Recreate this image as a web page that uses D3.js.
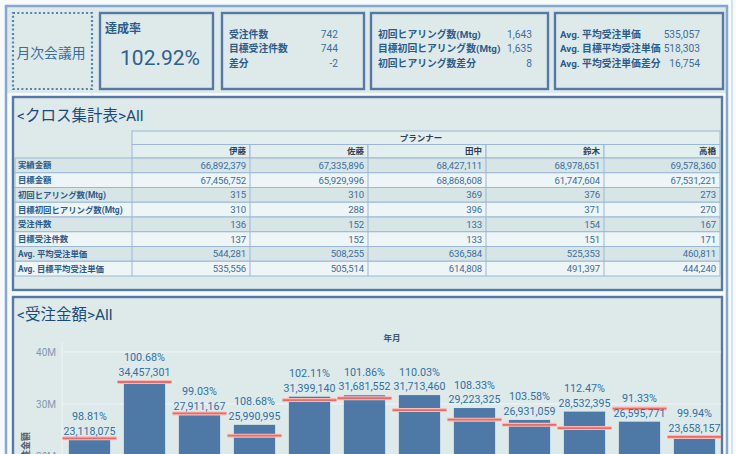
<!DOCTYPE html>
<html><head><meta charset="utf-8">
<script src="https://cdn.jsdelivr.net/npm/d3@7"></script>
<style>
html,body{margin:0;padding:0;background:#f7fafa;}
svg{display:block;font-family:Roboto,"Noto Sans CJK JP",sans-serif;}
</style></head>
<body><svg id="c" width="736" height="454"></svg>
<script>
// ---------- data ----------
const badgeText = "月次会議用";
const rateTitle = "達成率";
const rateValue = "102.92%";
const kpiCountLabels = ["受注件数", "目標受注件数", "差分"];
const kpiCountValues = [742, 744, -2];
const kpiMtgLabels = ["初回ヒアリング数(Mtg)", "目標初回ヒアリング数(Mtg)", "初回ヒアリング数差分"];
const kpiMtgValues = [1643, 1635, 8];
const kpiPriceLabels = ["Avg. 平均受注単価", "Avg. 目標平均受注単価", "Avg. 平均受注単価差分"];
const kpiPriceValues = [535057, 518303, 16754];

const tableTitle = "<クロス集計表>All";
const planners = ["伊藤", "佐藤", "田中", "鈴木", "高橋"];
const plannerHeader = "プランナー";
const rowLabels = ["実績金額", "目標金額", "初回ヒアリング数(Mtg)", "目標初回ヒアリング数(Mtg)", "受注件数", "目標受注件数", "Avg. 平均受注単価", "Avg. 目標平均受注単価"];
const rowActual   = [66892379, 67335896, 68427111, 68978651, 69578360];
const rowTarget   = [67456752, 65929996, 68868608, 61747604, 67531221];
const rowMtg      = [315, 310, 369, 376, 273];
const rowMtgTgt   = [310, 288, 396, 371, 270];
const rowOrders   = [136, 152, 133, 154, 167];
const rowOrdersTgt= [137, 152, 133, 151, 171];
const rowAvg      = [544281, 508255, 636584, 525353, 460811];
const rowAvgTgt   = [535556, 505514, 614808, 491397, 444240];

const chartTitle = "<受注金額>All";
const xHeader = "年月";
const yTitle = "受注金額";
const months = ["1","2","3","4","5","6","7","8","9","10","11","12"];
const actual = [23118075, 34457301, 27911167, 25990995, 31399140, 31681552, 31713460, 29223325, 26931059, 28532395, 26595771, 23658157];
const rates  = ["98.81%", "100.68%", "99.03%", "108.68%", "102.11%", "101.86%", "110.03%", "108.33%", "103.58%", "112.47%", "91.33%", "99.94%"];
const target = [23396493, 34224574, 28184557, 23915159, 30750308, 31103035, 28822557, 26976207, 26000250, 25368894, 29120520, 23672360];
const yTicks = [0, 10000000, 20000000, 30000000, 40000000];

// ---------- drawing ----------
const svg = d3.select("#c");
const fmt = d3.format(",");
const PANEL_BG = "#deeaea";
const BORDER = "#5578a6";
const LABEL = "#2b5b8c";
const VALUE = "#3b6d9d";

// KPI strip background
svg.append("rect").attr("x",7).attr("y",7).attr("width",719).attr("height",86).attr("fill",PANEL_BG);

// outer frame
svg.append("path").attr("d","M6,460 L6,6 L727,6 L727,460").attr("fill","none").attr("stroke","#86a8cf").attr("stroke-width",2.5);
svg.append("line").attr("x1",732).attr("x2",732).attr("y1",0).attr("y2",454).attr("stroke","#c9d8e8").attr("stroke-width",1.5);

// badge
svg.append("rect").attr("x",13).attr("y",13).attr("width",79).attr("height",76)
  .attr("fill",PANEL_BG).attr("stroke","#5a7fab").attr("stroke-width",2.2).attr("stroke-dasharray","2,2.3");
svg.append("text").attr("x",51).attr("y",53).attr("text-anchor","middle").attr("dominant-baseline","central")
  .attr("font-size",13.8).attr("fill","#3a6b9e").text(badgeText);

function panel(x,y,w,h){
  svg.append("rect").attr("x",x).attr("y",y).attr("width",w).attr("height",h)
    .attr("fill",PANEL_BG).attr("stroke",BORDER).attr("stroke-width",2.4);
}
panel(100,13,113,76);
svg.append("text").attr("x",105).attr("y",29).attr("dominant-baseline","central").attr("font-size",12).attr("font-weight","bold").attr("fill",LABEL).text(rateTitle);
svg.append("text").attr("x",160).attr("y",58).attr("text-anchor","middle").attr("dominant-baseline","central").attr("font-size",21).attr("fill","#2d5f91").text(rateValue);

function kpiBlock(x,w,labels,values,lx,vx){
  panel(x,13,w,76);
  const ys = [34,48.7,63.3];
  labels.forEach((l,i)=>{
    svg.append("text").attr("x",lx).attr("y",ys[i]).attr("dominant-baseline","central").attr("font-size",9.8).attr("font-weight","bold").attr("fill",LABEL).text(l);
    svg.append("text").attr("x",vx).attr("y",ys[i]).attr("text-anchor","end").attr("dominant-baseline","central").attr("font-size",10.2).attr("fill",VALUE).text(fmt(values[i]).replace("−","-"));
  });
}
kpiBlock(222,142,kpiCountLabels,kpiCountValues,229,338);
kpiBlock(371,177,kpiMtgLabels,kpiMtgValues,378,532);
kpiBlock(555,168,kpiPriceLabels,kpiPriceValues,560,700);

// ---------- table ----------
panel(13,97,709,193);
svg.append("text").attr("x",17).attr("y",116).attr("dominant-baseline","central").attr("font-size",15.5).attr("fill","#1a4a7c").text(tableTitle);

const colEdges = [15,132,250,368,486,604,720];
const hdr1 = 131, hdr2 = 144.5, dataTop = 158, rowH = 14.75;
const grid = "#9ab7d5";
const tableRows = [rowActual,rowTarget,rowMtg,rowMtgTgt,rowOrders,rowOrdersTgt,rowAvg,rowAvgTgt];

svg.append("rect").attr("x",132).attr("y",hdr1).attr("width",588).attr("height",hdr2-hdr1).attr("fill","#e3eeee").attr("stroke",grid);
svg.append("text").attr("x",421).attr("y",(hdr1+hdr2)/2).attr("text-anchor","middle").attr("dominant-baseline","central").attr("font-size",8.5).attr("font-weight","bold").attr("fill","#2e3f55").text(plannerHeader);
planners.forEach((p,i)=>{
  svg.append("rect").attr("x",colEdges[i+1]).attr("y",hdr2).attr("width",colEdges[i+2]-colEdges[i+1]).attr("height",dataTop-hdr2).attr("fill","#e3eeee").attr("stroke",grid);
  svg.append("text").attr("x",colEdges[i+2]-4).attr("y",(hdr2+dataTop)/2).attr("text-anchor","end").attr("dominant-baseline","central").attr("font-size",8.5).attr("font-weight","bold").attr("fill","#2e3f55").text(p);
});
tableRows.forEach((vals,r)=>{
  const y0 = dataTop + r*rowH;
  svg.append("rect").attr("x",15).attr("y",y0).attr("width",705).attr("height",rowH).attr("fill", r%2===0 ? "#d8e5e6" : "#eef5f6").attr("stroke",grid);
  svg.append("text").attr("x",18).attr("y",y0+rowH/2).attr("dominant-baseline","central").attr("font-size",8.4).attr("font-weight","bold").attr("fill",LABEL).text(rowLabels[r]);
  vals.forEach((v,i)=>{
    svg.append("line").attr("x1",colEdges[i+1]).attr("x2",colEdges[i+1]).attr("y1",y0).attr("y2",y0+rowH).attr("stroke",grid);
    svg.append("text").attr("x",colEdges[i+2]-4).attr("y",y0+rowH/2).attr("text-anchor","end").attr("dominant-baseline","central").attr("font-size",9.6).attr("letter-spacing",-0.15).attr("fill",VALUE).text(fmt(v));
  });
});

// ---------- chart ----------
panel(13,297,709,200);
svg.append("text").attr("x",17).attr("y",315).attr("dominant-baseline","central").attr("font-size",15.5).attr("fill","#1a4a7c").text(chartTitle);

const plotTop = 342;
const x = d3.scaleBand().domain(months).range([62,722]).paddingInner(0.25).paddingOuter(0.125);
const y = d3.scaleLinear().domain([0,41.92e6]).range([560,plotTop]);

svg.append("text").attr("x",392).attr("y",338).attr("text-anchor","middle").attr("dominant-baseline","central").attr("font-size",8.5).attr("font-weight","bold").attr("fill","#44546a").text(xHeader);

svg.append("clipPath").attr("id","plotclip").append("rect").attr("x",14).attr("y",298).attr("width",707).attr("height",200);
const g = svg.append("g").attr("clip-path","url(#plotclip)");

g.selectAll(".gl").data(yTicks).join("line").attr("x1",62).attr("x2",721).attr("y1",d=>y(d)).attr("y2",d=>y(d)).attr("stroke","#eef5f5").attr("stroke-width",1);
g.append("line").attr("x1",62).attr("x2",62).attr("y1",plotTop).attr("y2",560).attr("stroke","#eef5f5");

const yAxis = d3.axisLeft(y).tickValues(yTicks).tickFormat(d=>d3.format("~s")(d)).tickSize(0).tickPadding(6);
const ya = g.append("g").attr("transform","translate(62,0)").call(yAxis);
ya.select(".domain").remove();
ya.selectAll("text").attr("font-size",10).attr("fill","#8597ad").attr("font-family","Roboto,sans-serif");

g.append("text").attr("transform","translate(26,432) rotate(-90)").attr("text-anchor","end").attr("dominant-baseline","central")
  .attr("font-size",9).attr("font-weight","bold").attr("fill","#4f5e70").text(yTitle);

g.selectAll(".bar").data(months).join("rect")
  .attr("x",d=>x(d)).attr("width",x.bandwidth())
  .attr("y",(d,i)=>y(actual[i])).attr("height",(d,i)=>y(0)-y(actual[i]))
  .attr("fill","#4e79a7");

const half = x.step()/2 - 0.5;
g.selectAll(".tgh").data(months).join("line")
  .attr("x1",d=>x(d)+x.bandwidth()/2-half).attr("x2",d=>x(d)+x.bandwidth()/2+half)
  .attr("y1",(d,i)=>y(target[i])).attr("y2",(d,i)=>y(target[i]))
  .attr("stroke","#f7bcb8").attr("stroke-width",4);
g.selectAll(".tg").data(months).join("line")
  .attr("x1",d=>x(d)+x.bandwidth()/2-half).attr("x2",d=>x(d)+x.bandwidth()/2+half)
  .attr("y1",(d,i)=>y(target[i])).attr("y2",(d,i)=>y(target[i]))
  .attr("stroke","#ec6a64").attr("stroke-width",1.8);

g.selectAll(".lv").data(months).join("text")
  .attr("x",d=>x(d)+x.bandwidth()/2).attr("y",(d,i)=>y(actual[i])-8.5)
  .attr("text-anchor","middle").attr("dominant-baseline","central").attr("font-size",10.6).attr("fill","#3070a6")
  .text((d,i)=>fmt(actual[i]));
g.selectAll(".lp").data(months).join("text")
  .attr("x",d=>x(d)+x.bandwidth()/2).attr("y",(d,i)=>y(actual[i])-23)
  .attr("text-anchor","middle").attr("dominant-baseline","central").attr("font-size",10.8).attr("fill","#3070a6")
  .text((d,i)=>rates[i]);
</script></body></html>
